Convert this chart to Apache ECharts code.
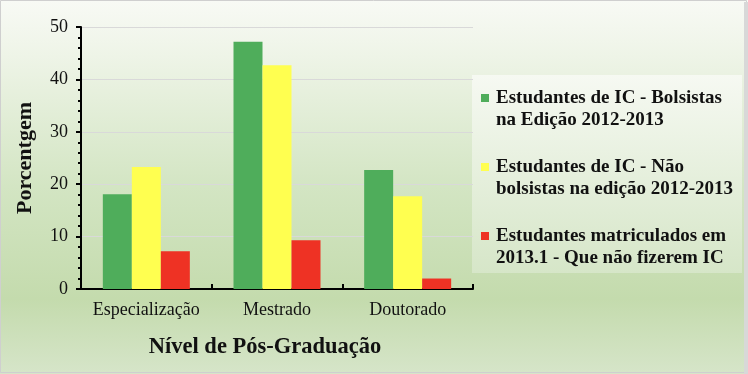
<!DOCTYPE html>
<html>
<head>
<meta charset="utf-8">
<script src="https://cdn.jsdelivr.net/npm/echarts@6/dist/echarts.min.js"></script>
<style>
html,body{margin:0;padding:0;background:#fff;}
#c{width:748px;height:374px;}
</style>
</head>
<body>
<div id="c"></div>
<script>
var categories = ['Especialização', 'Mestrado', 'Doutorado'];
var seriesNames = [
  'Estudantes de IC - Bolsistas na Edição 2012-2013',
  'Estudantes de IC - Não bolsistas na edição 2012-2013',
  'Estudantes matriculados em 2013.1 - Que não fizerem IC'
];
var legendLines = [
  ['Estudantes de IC - Bolsistas', 'na Edição 2012-2013'],
  ['Estudantes de IC - Não', 'bolsistas na edição 2012-2013'],
  ['Estudantes matriculados em', '2013.1 - Que não fizerem IC']
];
var bolsistas = [18.1, 47.2, 22.7];
var naoBolsistas = [23.3, 42.7, 17.7];
var naoFizeram = [7.2, 9.3, 2.0];
var yTicks = [0, 10, 20, 30, 40, 50];

var colors = ['#4fad5b', '#ffff50', '#ee3224'];
var FONT = '"Liberation Serif", "Times New Roman", serif';

var chart = echarts.init(document.getElementById('c'), null, {renderer: 'canvas'});
var values = [bolsistas, naoBolsistas, naoFizeram];

var rich = {
  g0: {width: 7, height: 8},
  g1: {width: 15, height: 8}
};
colors.forEach(function (c, i) {
  rich['sq' + i] = {width: 8, height: 8, backgroundColor: c, verticalAlign: 'middle'};
});

chart.setOption({
  animation: false,
  backgroundColor: new echarts.graphic.LinearGradient(0, 0, 0, 1, [
    {offset: 0, color: '#f8faf5'},
    {offset: 0.15, color: '#eef4e7'},
    {offset: 0.5, color: '#d3e5c3'},
    {offset: 0.8, color: '#c4dbad'},
    {offset: 1, color: '#d6e5c9'}
  ]),
  graphic: [
    {
      type: 'rect', z: -1, silent: true,
      shape: {x: 472, y: 75, width: 270, height: 198},
      style: {
        fill: new echarts.graphic.LinearGradient(0, 0, 0, 1, [
          {offset: 0, color: '#f6f9f2'},
          {offset: 1, color: '#d6e6c8'}
        ])
      }
    },
    {
      type: 'rect', silent: true, z: 100,
      shape: {x: 0.5, y: 0.5, width: 746, height: 372},
      style: {fill: 'none', stroke: '#cfcfcf', lineWidth: 1}
    },
    {
      type: 'rect', silent: true, z: 100,
      shape: {x: 744, y: 2, width: 4, height: 372},
      style: {fill: '#d8d8d8'}
    }
  ],
  grid: {left: 81, right: 275, top: 27, bottom: 85, containLabel: false},
  legend: {
    orient: 'vertical',
    left: 475,
    top: 87,
    padding: 0,
    itemGap: 25,
    itemWidth: 1,
    itemHeight: 1,
    icon: 'rect',
    itemStyle: {opacity: 0},
    data: seriesNames,
    formatter: function (name) {
      var i = seriesNames.indexOf(name);
      return '{sq' + i + '|}{g0|}' + legendLines[i][0] + '\n{g1|}' + legendLines[i][1];
    },
    textStyle: {
      fontFamily: FONT,
      fontWeight: 'bold',
      fontSize: 19,
      lineHeight: 22,
      color: '#111',
      rich: rich
    }
  },
  xAxis: {
    type: 'category',
    data: categories,
    name: 'Nível de Pós-Graduação',
    nameLocation: 'middle',
    nameGap: 47,
    nameTextStyle: {fontFamily: FONT, fontWeight: 'bold', fontSize: 22.5, color: '#111', padding: [0, 24, 0, 0]},
    axisLine: {lineStyle: {color: '#000', width: 2}},
    axisTick: {show: true, inside: true, length: 5, lineStyle: {color: '#000', width: 2}},
    axisLabel: {fontFamily: FONT, fontSize: 18, color: '#111', margin: 12, interval: 0}
  },
  yAxis: {
    type: 'value',
    min: 0,
    max: 50,
    interval: 10,
    name: 'Porcentgem',
    nameLocation: 'middle',
    nameGap: 45,
    nameTextStyle: {fontFamily: FONT, fontWeight: 'bold', fontSize: 22, color: '#111'},
    axisLine: {show: true, lineStyle: {color: '#000', width: 2}},
    axisTick: {show: true, inside: false, length: 5, lineStyle: {color: '#000', width: 2}},
    minorTick: {show: true, splitNumber: 5, length: 3, lineStyle: {color: '#000', width: 2}},
    splitLine: {show: true, lineStyle: {color: '#d9d9d9', width: 1}},
    axisLabel: {
      fontFamily: FONT, fontSize: 18, color: '#111', margin: 13,
      formatter: function (v) { return yTicks.indexOf(v) >= 0 ? String(v) : ''; }
    }
  },
  series: seriesNames.map(function (n, i) {
    return {
      name: n,
      type: 'bar',
      data: values[i],
      barWidth: 29,
      barGap: '0%',
      itemStyle: {color: colors[i]}
    };
  })
});
</script>
</body>
</html>
